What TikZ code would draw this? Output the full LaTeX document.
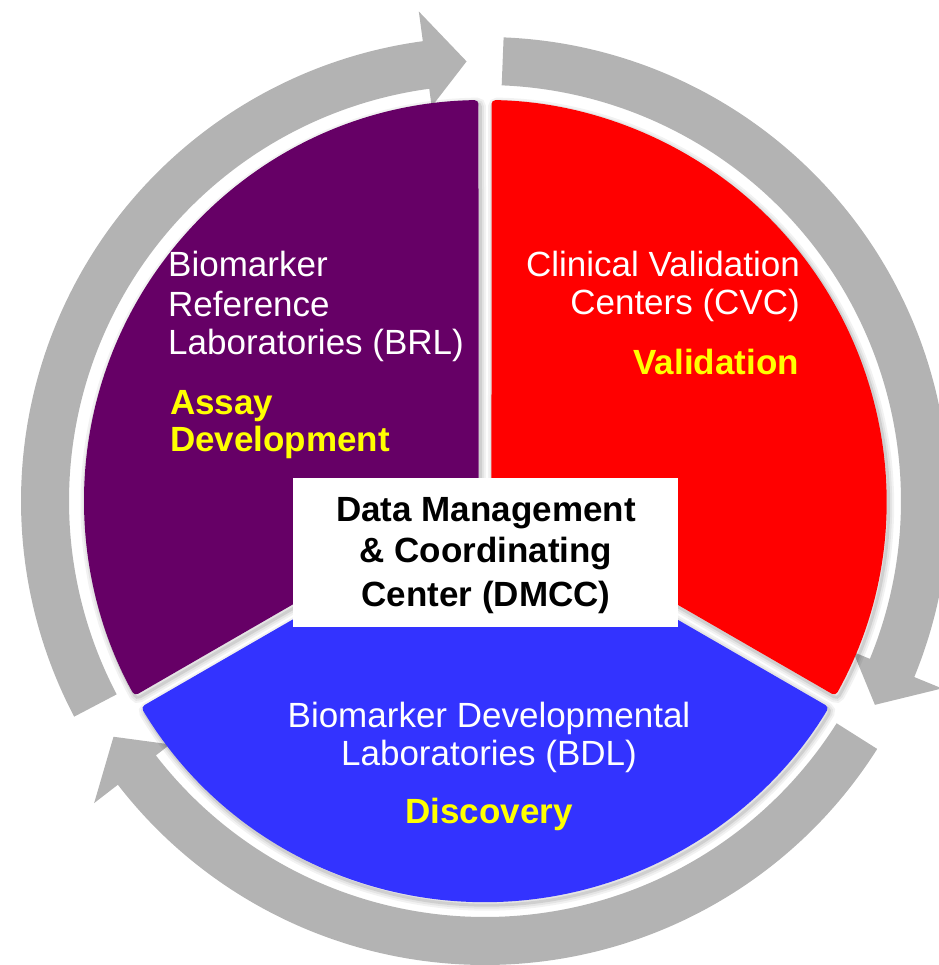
\documentclass[tikz,border=0pt]{standalone}
\usepackage{fontspec}
\setmainfont{Liberation Sans}

\definecolor{ringgray}{RGB}{179,179,179}
\definecolor{brlpurple}{RGB}{102,0,102}
\definecolor{cvcred}{RGB}{255,0,0}
\definecolor{bdlblue}{RGB}{51,51,255}
\definecolor{labelyellow}{RGB}{255,255,0}

% Curved grey arrow of the outer ring, running clockwise from #1 to its tip at #2
\newcommand\ringarrow[2]{%
  \fill[ringgray]
    (#1:464) arc[start angle=#1, end angle=#2+5.3, radius=464]
    -- (#2+5.3:494) -- (#2:440) -- (#2+5.3:398) -- (#2+5.3:416)
    arc[start angle=#2+5.3, end angle=#1, radius=416] -- cycle;}

% One slice of the disc: colour, first edge angle, second edge angle, bisector
\newcommand\sectorshape[4]{%
  \foreach \w/\o in {11/0.05, 7/0.06, 3/0.09} {
    \draw[line width=\w pt, black, opacity=\o, rounded corners=4pt, shift={(2,-3)}]
      (#4:7.5) -- (#2+0.93:401)
      arc[start angle=#2+0.93, end angle=#3-0.93, radius=401] -- cycle;
  }
  \fill[#1, rounded corners=4pt]
    (#4:7.5) -- (#2+0.93:401)
    arc[start angle=#2+0.93, end angle=#3-0.93, radius=401] -- cycle;}

\begin{document}
\begin{tikzpicture}[x=1pt, y=1pt,
  plain/.style={inner sep=0pt, text=white, font=\fontsize{35}{39}\selectfont},
  role/.style={inner sep=0pt, text=labelyellow, font=\fontsize{35}{39}\selectfont\bfseries},
  centre/.style={inner sep=0pt, text=black, font=\fontsize{35}{42}\selectfont\bfseries}]
\useasboundingbox (-485,-464) rectangle (453,501);

% outer ring of arrows
\ringarrow{207.7}{92.4}
\ringarrow{87.7}{-27.6}
\ringarrow{-32.3}{-147.6}

% the three slices
\sectorshape{brlpurple}{90}{210}{150}
\sectorshape{bdlblue}{210}{330}{270}
\sectorshape{cvcred}{-30}{90}{30}

% central box
\node[fill=white, inner sep=0pt, minimum width=385pt, minimum height=149pt,
      anchor=north west] (dmccbox) at (-192,23) {};
\node[centre, anchor=base] (dmcc1) at (1,-21) {Data Management};
\node[centre, anchor=base] (dmcc2) at (1,-62) {\& Coordinating};
\node[centre, anchor=base] (dmcc3) at (1,-106) {Center (DMCC)};

% Biomarker Reference Laboratories
\node[plain, anchor=base west] (brl1) at (-317,224) {Biomarker};
\node[plain, anchor=base west] (brl2) at (-317,184) {Reference};
\node[plain, anchor=base west] (brl3) at (-317,146) {Laboratories (BRL)};
\node[role, anchor=base west] (brl4) at (-315,86) {Assay};
\node[role, anchor=base west] (brl5) at (-315,49) {Development};

% Clinical Validation Centers
\node[plain, anchor=base east] (cvc1) at (315,224) {Clinical Validation};
\node[plain, anchor=base east] (cvc2) at (315,186) {Centers (CVC)};
\node[role, anchor=base east] (cvc3) at (314,126) {Validation};

% Biomarker Developmental Laboratories
\node[plain, anchor=base] (bdl1) at (4,-226) {Biomarker Developmental};
\node[plain, anchor=base] (bdl2) at (4,-264) {Laboratories (BDL)};
\node[role, anchor=base] (bdl3) at (4,-322) {Discovery};
\end{tikzpicture}
\end{document}
